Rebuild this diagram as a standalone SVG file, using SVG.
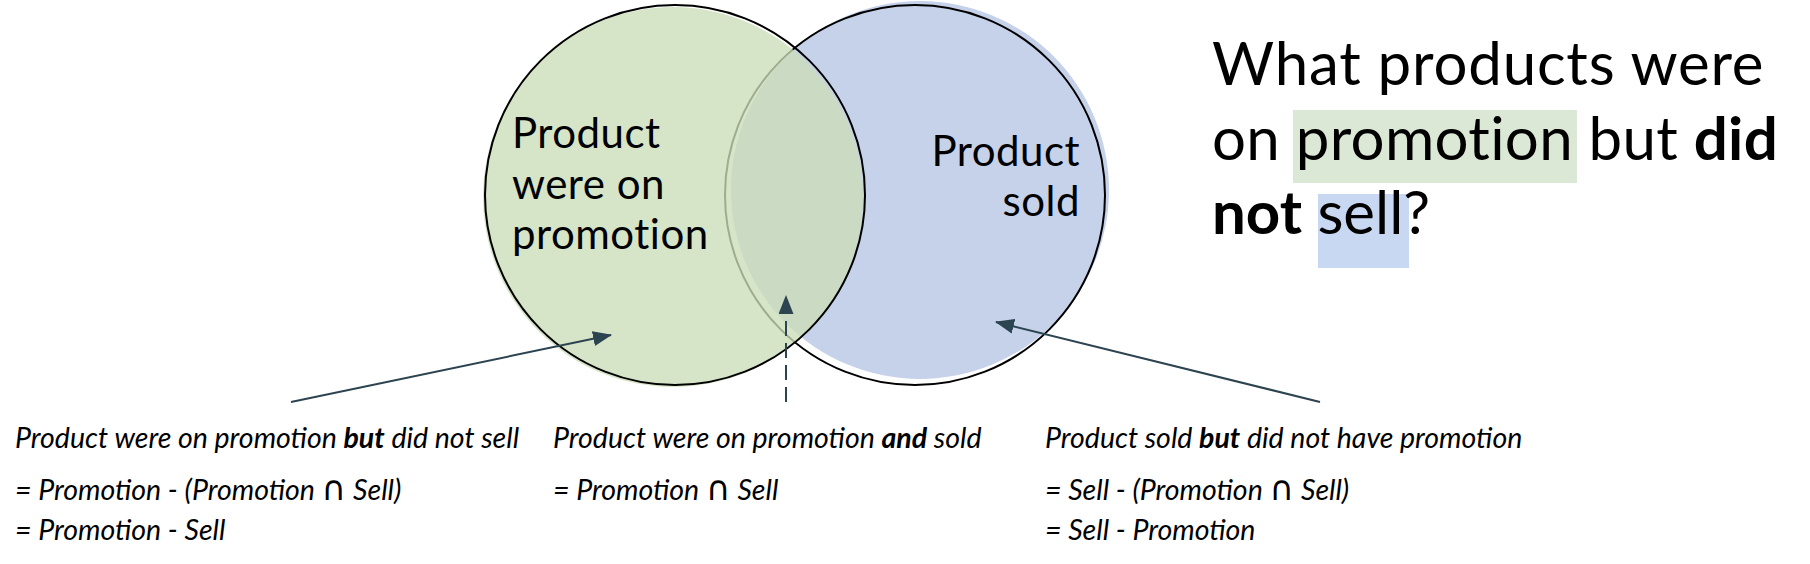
<svg xmlns="http://www.w3.org/2000/svg" width="1810" height="564" viewBox="0 0 1810 564">
  <style>
    .lbl { font-family: Lato, "Noto Sans", "Liberation Sans", sans-serif; font-size: 42px; letter-spacing: 0.5px; fill: #000; }
    .title { font-family: Lato, "Noto Sans", "Liberation Sans", sans-serif; font-size: 60px; fill: #000; }
    .note { font-family: Lato, "Noto Sans", "Liberation Sans", sans-serif; font-size: 28.5px; font-style: italic; fill: #000; }
    .cap { font-family: "DejaVu Sans", "Liberation Sans", sans-serif; font-size: 34px; font-weight: 300; }
    .b { font-weight: bold; }
    .outline { fill: none; stroke: #000; stroke-width: 2; }
    .conn { stroke: #2c4350; stroke-width: 2; fill: none; }
  </style>
  <defs>
    <marker id="arrow" markerUnits="userSpaceOnUse" markerWidth="19" markerHeight="15" refX="18" refY="7.5" orient="auto">
      <path d="M0,0 L19,7.5 L0,15 z" fill="#2c4350"/>
    </marker>
  </defs>
  <rect width="1810" height="564" fill="#fff"/>

  <g id="node-sold">
    <circle cx="920" cy="190" r="189" fill="#c6d2ea"/>
    <circle class="outline" cx="915" cy="195" r="190"/>
    <text class="lbl" text-anchor="end"><tspan x="1080" y="166">Product</tspan><tspan x="1080" y="216">sold</tspan></text>
  </g>

  <g id="node-promotion">
    <circle cx="673" cy="197" r="190" fill="#cadcb7" fill-opacity="0.78"/>
    <circle class="outline" cx="675" cy="195" r="190"/>
    <text class="lbl"><tspan x="512" y="148">Product</tspan><tspan x="512" y="199">were on</tspan><tspan x="512" y="249">promotion</tspan></text>
  </g>

  <g id="title">
    <rect x="1293" y="110" width="284" height="73" fill="#dbe8d5"/>
    <rect x="1318" y="194" width="91" height="74" fill="#c8d8f2"/>
    <text class="title"><tspan x="1212" y="85" letter-spacing="0.8">What products were</tspan><tspan x="1212" y="159.5" letter-spacing="0.3">on promotion but <tspan class="b">did</tspan></tspan><tspan x="1212" y="234"><tspan class="b">not</tspan> sell?</tspan></text>
  </g>

  <g id="connectors">
    <line class="conn" x1="291" y1="402" x2="611" y2="335" marker-end="url(#arrow)"/>
    <line class="conn" x1="786" y1="402" x2="786" y2="296" stroke-dasharray="15 7" marker-end="url(#arrow)"/>
    <line class="conn" x1="1320" y1="402" x2="996" y2="322" marker-end="url(#arrow)"/>
  </g>

  <g id="note-left">
    <text class="note" x="15" y="448">Product were on promotion <tspan class="b">but</tspan> did not sell</text>
    <text class="note" x="15" y="500">= Promotion - (Promotion <tspan class="cap">∩</tspan> Sell)</text>
    <text class="note" x="15" y="540">= Promotion - Sell</text>
  </g>
  <g id="note-middle">
    <text class="note" x="553" y="448">Product were on promotion <tspan class="b">and</tspan> sold</text>
    <text class="note" x="553" y="500">= Promotion <tspan class="cap">∩</tspan> Sell</text>
  </g>
  <g id="note-right">
    <text class="note" x="1045" y="448">Product sold <tspan class="b">but</tspan> did not have promotion</text>
    <text class="note" x="1045" y="500">= Sell - (Promotion <tspan class="cap">∩</tspan> Sell)</text>
    <text class="note" x="1045" y="540">= Sell - Promotion</text>
  </g>
</svg>
